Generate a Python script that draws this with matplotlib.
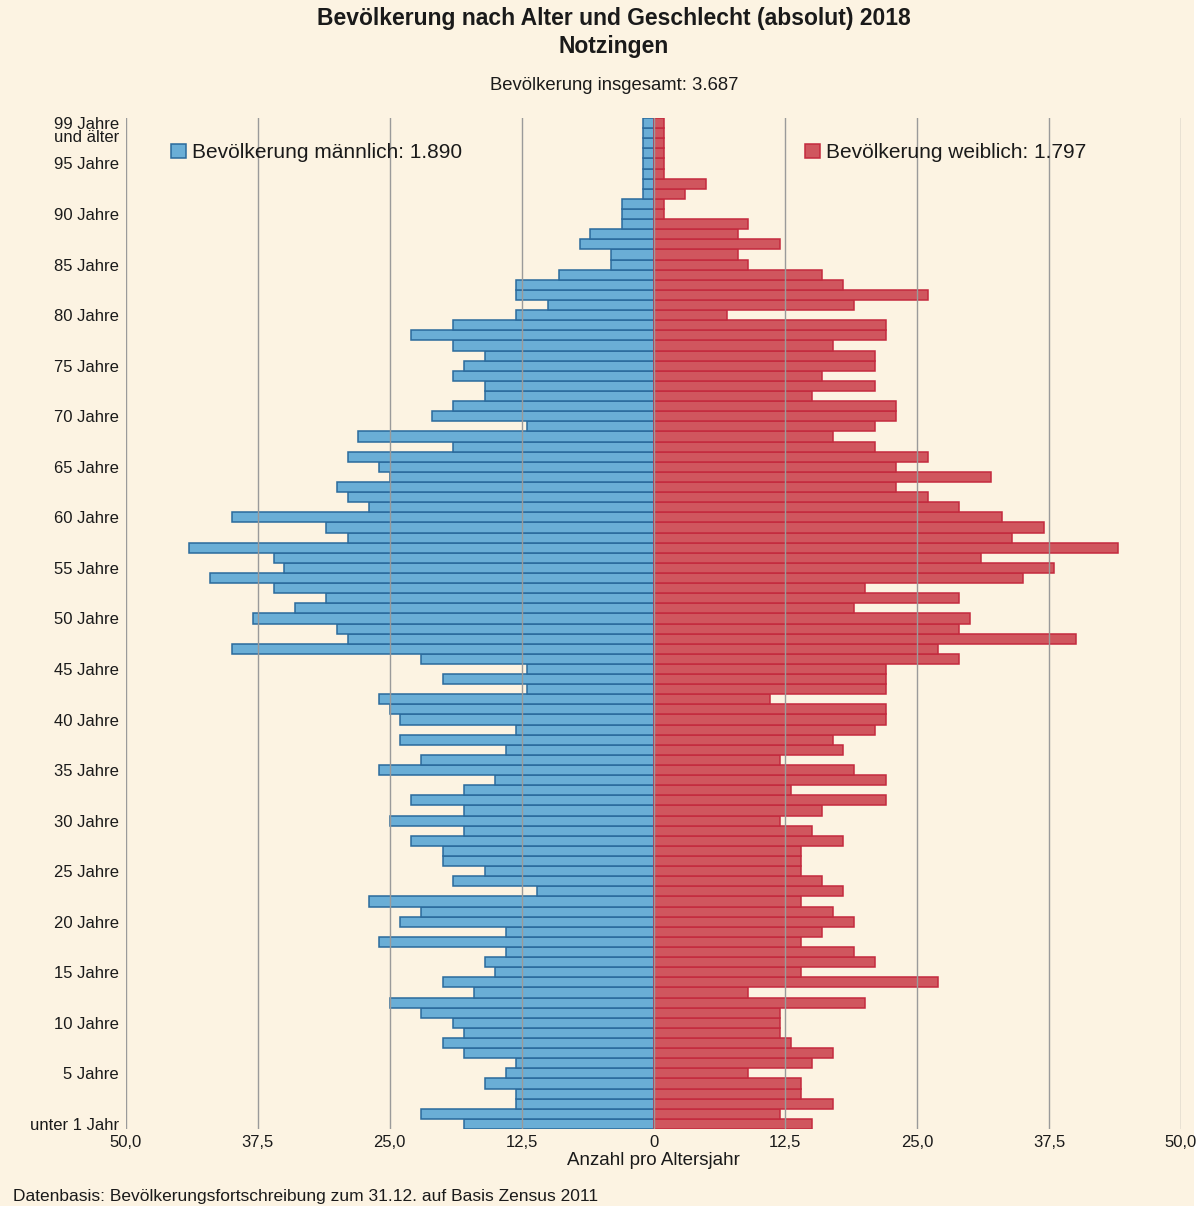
import matplotlib
matplotlib.use("Agg")
import matplotlib.pyplot as plt
from matplotlib.patches import Rectangle
import matplotlib.transforms as mtransforms
import numpy as np

plt.rcParams["font.family"] = ["Liberation Sans", "DejaVu Sans"]

# Altersjahre 0 .. 99 (99 = "99 Jahre und älter")
ages = list(range(100))

male = [
    18, 22, 13, 13, 16, 14, 13, 18, 20, 18,
    19, 22, 25, 17, 20, 15, 16, 14, 26, 14,
    24, 22, 27, 11, 19, 16, 20, 20, 23, 18,
    25, 18, 23, 18, 15, 26, 22, 14, 24, 13,
    24, 25, 26, 12, 20, 12, 22, 40, 29, 30,
    38, 34, 31, 36, 42, 35, 36, 44, 29, 31,
    40, 27, 29, 30, 25, 26, 29, 19, 28, 12,
    21, 19, 16, 16, 19, 18, 16, 19, 23, 19,
    13, 10, 13, 13, 9, 4, 4, 7, 6, 3,
    3, 3, 1, 1, 1, 1, 1, 1, 1, 1,
]

female = [
    15, 12, 17, 14, 14, 9, 15, 17, 13, 12,
    12, 12, 20, 9, 27, 14, 21, 19, 14, 16,
    19, 17, 14, 18, 16, 14, 14, 14, 18, 15,
    12, 16, 22, 13, 22, 19, 12, 18, 17, 21,
    22, 22, 11, 22, 22, 22, 29, 27, 40, 29,
    30, 19, 29, 20, 35, 38, 31, 44, 34, 37,
    33, 29, 26, 23, 32, 23, 26, 21, 17, 21,
    23, 23, 15, 21, 16, 21, 21, 17, 22, 22,
    7, 19, 26, 18, 16, 9, 8, 12, 8, 9,
    1, 1, 3, 5, 1, 1, 1, 1, 1, 1,
]

total_all = "3.687"
total_male = "1.890"
total_female = "1.797"

ytick_pos = list(range(0, 100, 5)) + [99]
ytick_labels = ["unter 1 Jahr"] + [f"{a} Jahre" for a in range(5, 100, 5)] + ["99 Jahre\nund älter"]

xtick_pos = [-50, -37.5, -25, -12.5, 0, 12.5, 25, 37.5, 50]
xtick_labels = ["50,0", "37,5", "25,0", "12,5", "0", "12,5", "25,0", "37,5", "50,0"]

BG = "#FCF3E2"
TXT = "#1a1a1a"

fig = plt.figure(figsize=(12, 12.06), dpi=100)
fig.patch.set_facecolor("white")
fig.patches.append(Rectangle((0, 0), 1194 / 1200, 1, transform=fig.transFigure,
                             facecolor=BG, edgecolor="none", zorder=-10))

ax = fig.add_axes([126 / 1200, 1 - 1129 / 1206, 1055 / 1200, (1129 - 118) / 1206])
ax.set_facecolor(BG)
ax.patch.set_alpha(0)

m_bars = ax.barh(ages, -np.array(male), height=1.0, color="#6AAED6",
                 edgecolor="#2A6A9C", linewidth=1.1, zorder=2,
                 label=f"Bevölkerung männlich: {total_male}")
f_bars = ax.barh(ages, female, height=1.0, color="#D0565E",
                 edgecolor="#C42A3E", linewidth=1.1, zorder=2,
                 label=f"Bevölkerung weiblich: {total_female}")

ax.set_xlim(-50, 50)
ax.set_ylim(-0.5, 99.5)

for x in xtick_pos:
    ax.axvline(x, color="#9a9a9a", linewidth=1.0, zorder=3)

for s in ax.spines.values():
    s.set_visible(False)

ax.set_xticks(xtick_pos)
ax.set_xticklabels(xtick_labels, fontsize=12, color=TXT)
ax.set_yticks(ytick_pos)
ax.set_yticklabels(ytick_labels, fontsize=12, color=TXT, linespacing=0.85)
ax.tick_params(axis="both", length=0)
ax.tick_params(axis="x", pad=4)
ax.tick_params(axis="y", pad=5)

# "99 Jahre und älter" sits with its first line on the bar
lbl = ax.get_yticklabels()[-1]
lbl.set_verticalalignment("top")
lbl.set_transform(lbl.get_transform() + mtransforms.ScaledTranslation(0, 6 / 100, fig.dpi_scale_trans))

ax.set_xlabel("Anzahl pro Altersjahr", fontsize=13.5, color=TXT, labelpad=2)

leg_kw = dict(loc="center left", frameon=False, fontsize=15, handlelength=0.7,
              handleheight=0.65, handletextpad=0.3, borderpad=0, borderaxespad=0,
              labelcolor=TXT)
fig.legend(handles=[m_bars], bbox_to_anchor=(171 / 1200, 1 - 153 / 1206), **leg_kw)
fig.legend(handles=[f_bars], bbox_to_anchor=(805 / 1200, 1 - 153 / 1206), **leg_kw)

fig.text(614 / 1200, 1 - 19 / 1206, "Bevölkerung nach Alter und Geschlecht (absolut) 2018",
         ha="center", va="center", fontsize=16.5, fontweight="bold", color=TXT)
fig.text(614 / 1200, 1 - 46 / 1206, "Notzingen",
         ha="center", va="center", fontsize=16.5, fontweight="bold", color=TXT)
fig.text(614 / 1200, 1 - 85 / 1206, f"Bevölkerung insgesamt: {total_all}",
         ha="center", va="center", fontsize=13.3, color=TXT)
fig.text(13 / 1200, 1 - 1196 / 1206,
         "Datenbasis: Bevölkerungsfortschreibung zum 31.12. auf Basis Zensus 2011",
         ha="left", va="center", fontsize=12.5, color=TXT)

fig.savefig("out.png", dpi=100, facecolor=fig.get_facecolor())
